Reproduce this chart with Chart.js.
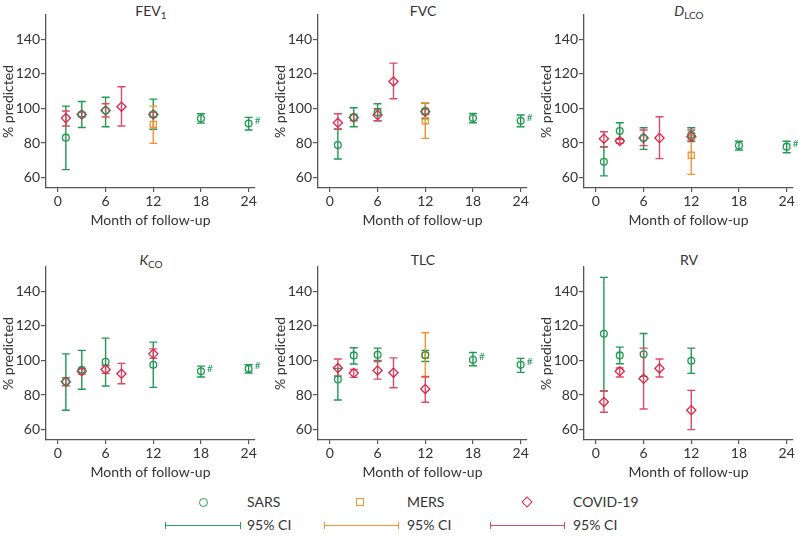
<!DOCTYPE html>
<html>
<head>
<meta charset="utf-8">
<script src="https://cdn.jsdelivr.net/npm/chart.js@4/dist/chart.umd.min.js"></script>
<style>
  body { margin: 0; background: #fff; font-family: Lato, sans-serif; color: #333; }
  #wrap { position: relative; width: 798px; height: 536px; overflow: hidden; }
  canvas { position: absolute; }
  .title { position: absolute; font-size: 14px; line-height: 16px; transform: translateX(-50%); white-space: nowrap; }
  .title sub { font-size: 10px; vertical-align: -3px; line-height: 0; }
  .leg { position: absolute; font-size: 14px; line-height: 16px; white-space: nowrap; }
  .sym { position: absolute; box-sizing: border-box; background: transparent; }
  .ci { position: absolute; height: 7px; box-sizing: border-box; }
  .ci::before { content: ''; position: absolute; left: 0; right: 0; top: 3px; height: 1.4px; background: currentColor; }
  .ci { border-left: 1.4px solid currentColor; border-right: 1.4px solid currentColor; }
</style>
</head>
<body>
<div id="wrap">
  <div class="title" style="left:151px;top:3px">FEV<sub>1</sub></div>
  <div class="title" style="left:423px;top:3px">FVC</div>
  <div class="title" style="left:689px;top:3px"><i>D</i><sub>LCO</sub></div>
  <div class="title" style="left:151px;top:252px"><i>K</i><sub>CO</sub></div>
  <div class="title" style="left:423px;top:252px">TLC</div>
  <div class="title" style="left:689px;top:252px">RV</div>

  <canvas id="c0" width="263" height="232" style="left:0px;top:0px"></canvas>
  <canvas id="c1" width="263" height="232" style="left:272px;top:0px"></canvas>
  <canvas id="c2" width="263" height="232" style="left:538px;top:0px"></canvas>
  <canvas id="c3" width="263" height="232" style="left:0px;top:252px"></canvas>
  <canvas id="c4" width="263" height="232" style="left:272px;top:252px"></canvas>
  <canvas id="c5" width="263" height="232" style="left:538px;top:252px"></canvas>

  <!-- legend -->
  <div class="sym" style="left:199px;top:498px;width:9px;height:9px;border:1.4px solid #2a9d5a;border-radius:50%"></div>
  <div class="leg" style="left:247px;top:494px">SARS</div>
  <div class="sym" style="left:356px;top:498px;width:8px;height:8px;border:1.4px solid #f7922f"></div>
  <div class="leg" style="left:407px;top:494px">MERS</div>
  <div class="sym" style="left:523px;top:498px;width:8px;height:8px;border:1.4px solid #d9284a;transform:rotate(45deg)"></div>
  <div class="leg" style="left:573px;top:494px">COVID-19</div>

  <div class="ci" style="left:165px;top:522px;width:76px;color:#2a9d5a"></div>
  <div class="leg" style="left:247px;top:517px">95% CI</div>
  <div class="ci" style="left:324px;top:522px;width:75px;color:#f7922f"></div>
  <div class="leg" style="left:407px;top:517px">95% CI</div>
  <div class="ci" style="left:490px;top:522px;width:75px;color:#de4a66"></div>
  <div class="leg" style="left:573px;top:517px">95% CI</div>
</div>

<script>
// ==========================================================
// data: [mean, lower 95% CI, upper 95% CI] per follow-up month
// ==========================================================
const sarsMonths = [1, 3, 6, 12, 18, 24];
const mersMonths = [12];
const covidMonths = [1, 3, 6, 8, 12];
const xTicks = [0, 6, 12, 18, 24];
const yTicks = [60, 80, 100, 120, 140];

const fev1Sars = [[83.1, 64.6, 101.3], [96.5, 89, 104], [98.8, 89.4, 106.5], [96.5, 88, 105.4], [94.2, 91.5, 96.9], [91.3, 87.5, 94.8]];
const fev1Mers = [[90.8, 79.8, 101.3]];
const fev1Covid = [[94.4, 89.8, 98.5], [96.5, 95.2, 97.7], [98.8, 95, 102.7], [101, 89.8, 112.5], [96.5, 95.2, 97.7]];
const fev1Hash = [24];

const fvcSars = [[78.8, 70.8, 88], [94.8, 89.4, 100.4], [97.7, 92.9, 102.7], [98.5, 94, 103], [94.4, 91.7, 97.1], [92.9, 89.4, 96.2]];
const fvcMers = [[92.9, 82.7, 103.1]];
const fvcCovid = [[91.7, 88.1, 96.9], [94.8, 92.9, 96.5], [96.2, 92.9, 99.8], [115.6, 105.6, 126.2], [98.1, 96.5, 99.6]];
const fvcHash = [24];

const dlcoSars = [[69.2, 61, 77.7], [86.9, 82.1, 91.7], [82.9, 76.3, 88.8], [84.8, 80.8, 88.8], [78.5, 76, 81], [77.9, 74.4, 81]];
const dlcoMers = [[72.9, 61.9, 84.2]];
const dlcoCovid = [[82.5, 77.9, 86.5], [81.2, 79.8, 82.5], [82.9, 78.5, 87.5], [82.9, 71, 95.2], [83.7, 81.7, 87.5]];
const dlcoHash = [24];

const kcoSars = [[87.8, 71.2, 103.8], [94.6, 83.3, 105.8], [99.2, 85.2, 112.9], [97.5, 84.4, 110.6], [93.7, 90.4, 96.7], [95.2, 92.7, 97.5]];
const kcoMers = [null];
const kcoCovid = [[87.7, 85.4, 90], [93.7, 92.1, 95.2], [94.8, 92.5, 96.9], [92.3, 86.5, 98.3], [103.8, 101.2, 106.7]];
const kcoHash = [18, 24];

const tlcSars = [[89, 77.1, 95.4], [102.9, 97.9, 107.3], [103.3, 100, 107.1], [103.1, 99.4, 105.8], [100.4, 96.9, 104.6], [97.5, 93.1, 101.2]];
const tlcMers = [[102.9, 90.2, 116]];
const tlcCovid = [[95.6, 91, 100.8], [92.7, 90.2, 94.8], [94.2, 89.2, 99.4], [92.9, 84.2, 101.5], [83.5, 75.8, 90.8]];
const tlcHash = [18, 24];

const rvSars = [[115.4, 82.3, 148], [102.9, 98.1, 107.7], [103.5, 90.8, 115.6], [99.8, 92.5, 107.1], null, null];
const rvMers = [null];
const rvCovid = [[76, 70, 82.3], [93.7, 90.4, 95.6], [89.4, 71.9, 107.1], [95.4, 90.4, 100.8], [71.2, 60, 82.7]];
const rvHash = [];

// ==========================================================
// styles
// ==========================================================
const GREEN = '#1f9a50';
const ORANGE = '#f7922f';
const RED = '#d9284a';
const RED_BAR = '#de4a66';
const AXIS = '#555';
const FONT = { family: 'Lato, sans-serif', size: 14 };

function toPoints(months, rows) {
  const pts = [];
  months.forEach(function(m, i) {
    const r = rows[i];
    if (r) pts.push({ x: m, y: r[0], lo: r[1], hi: r[2] });
  });
  return pts;
}

// error bars + "#" marks, drawn through the chart's own scales
const errorBars = {
  id: 'errorBars',
  beforeDatasetsDraw(chart) {
    const ctx = chart.ctx;
    const yScale = chart.scales.y;
    chart.data.datasets.forEach(function(ds, i) {
      const meta = chart.getDatasetMeta(i);
      ctx.save();
      ctx.strokeStyle = ds.barColor;
      ctx.lineWidth = 1.4;
      meta.data.forEach(function(pt, j) {
        const d = ds.data[j];
        const top = yScale.getPixelForValue(d.hi);
        const bot = yScale.getPixelForValue(d.lo);
        ctx.beginPath();
        ctx.moveTo(pt.x, top); ctx.lineTo(pt.x, bot);
        ctx.moveTo(pt.x - 4, top); ctx.lineTo(pt.x + 4, top);
        ctx.moveTo(pt.x - 4, bot); ctx.lineTo(pt.x + 4, bot);
        ctx.stroke();
      });
      ctx.restore();
    });
  },
  afterDatasetsDraw(chart, args, opts) {
    const ctx = chart.ctx;
    const meta = chart.getDatasetMeta(0);
    const ds = chart.data.datasets[0];
    ctx.save();
    ctx.fillStyle = GREEN;
    ctx.font = '10px Lato, sans-serif';
    ctx.textBaseline = 'middle';
    meta.data.forEach(function(pt, j) {
      if (opts.hash.indexOf(ds.data[j].x) >= 0) ctx.fillText('#', pt.x + 6, pt.y - 3);
    });
    ctx.restore();
  }
};

function makePanel(id, sars, mers, covid, hash) {
  new Chart(document.getElementById(id), {
    type: 'scatter',
    data: {
      datasets: [
        { data: toPoints(sarsMonths, sars), pointStyle: 'circle', radius: 3.4, borderColor: GREEN, barColor: GREEN, backgroundColor: 'rgba(0,0,0,0)', borderWidth: 1.3 },
        { data: toPoints(mersMonths, mers), pointStyle: 'rect', radius: 4.3, borderColor: ORANGE, barColor: ORANGE, backgroundColor: 'rgba(0,0,0,0)', borderWidth: 1.3 },
        { data: toPoints(covidMonths, covid), pointStyle: 'rectRot', radius: 4.6, borderColor: RED, barColor: RED_BAR, backgroundColor: 'rgba(0,0,0,0)', borderWidth: 1.3 }
      ]
    },
    options: {
      responsive: false,
      animation: false,
      events: [],
      layout: { padding: { top: 15, right: 8, left: 0, bottom: 0 } },
      plugins: { legend: { display: false }, tooltip: { enabled: false }, errorBars: { hash: hash } },
      scales: {
        x: {
          type: 'linear', min: -1.5, max: 24.8,
          afterBuildTicks: function(s) { s.ticks = xTicks.map(function(v) { return { value: v }; }); },
          afterFit: function(s) { s.height = 44; },
          grid: { drawOnChartArea: false, color: AXIS, tickLength: 4, lineWidth: 1.2 },
          border: { color: AXIS, width: 1.3 },
          ticks: { font: FONT, color: '#333', padding: 1, maxRotation: 0 },
          title: { display: true, text: 'Month of follow-up', font: FONT, color: '#333', padding: { top: 0, bottom: 3 } }
        },
        y: {
          min: 54, max: 154,
          afterBuildTicks: function(s) { s.ticks = yTicks.map(function(v) { return { value: v }; }); },
          afterFit: function(s) { s.width = 46; },
          grid: { drawOnChartArea: false, color: AXIS, tickLength: 5, lineWidth: 1.2 },
          border: { color: AXIS, width: 1.3 },
          ticks: { font: FONT, color: '#333', padding: 1 },
          title: { display: true, text: '% predicted', font: FONT, color: '#333', padding: 0 }
        }
      }
    },
    plugins: [errorBars]
  });
}

makePanel('c0', fev1Sars, fev1Mers, fev1Covid, fev1Hash);
makePanel('c1', fvcSars, fvcMers, fvcCovid, fvcHash);
makePanel('c2', dlcoSars, dlcoMers, dlcoCovid, dlcoHash);
makePanel('c3', kcoSars, kcoMers, kcoCovid, kcoHash);
makePanel('c4', tlcSars, tlcMers, tlcCovid, tlcHash);
makePanel('c5', rvSars, rvMers, rvCovid, rvHash);
</script>
</body>
</html>
